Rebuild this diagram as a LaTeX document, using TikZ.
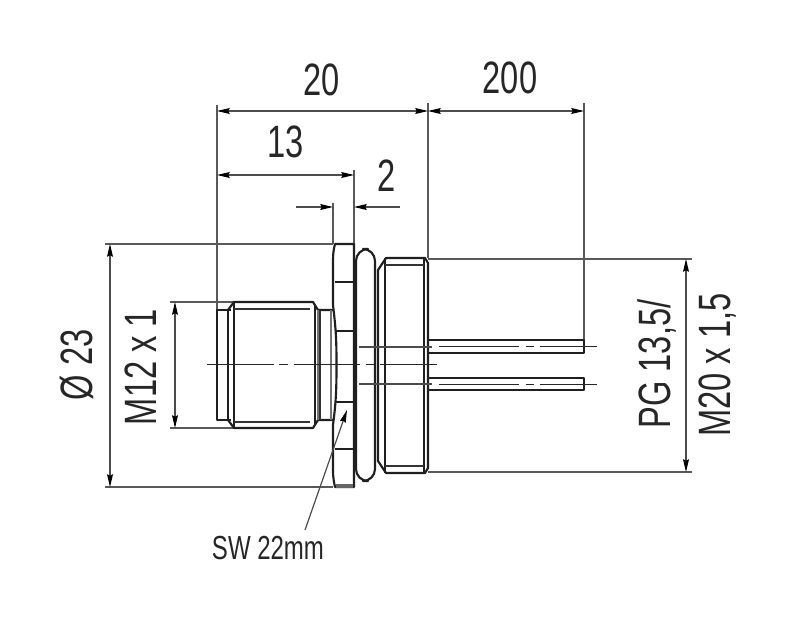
\documentclass[tikz,border=0pt]{standalone}
\usepackage{fontspec}
\usepackage{tikz}
\usetikzlibrary{arrows.meta}
\setmainfont[FakeStretch=0.72]{Liberation Sans}

\tikzset{
    >={Stealth[length=9.5pt,width=4.4pt,inset=1pt,color=black]},
    part/.style={line width=1.6pt, color=black!88, line join=round},
    thin part/.style={line width=1pt, color=black!80},
    gray part/.style={line width=2pt, color=black!55},
    dimline/.style={line width=0.9pt, color=black!70},
    extline/.style={line width=0.9pt, color=black!65},
    center line/.style={line width=0.9pt, color=black!85, dash pattern=on 50pt off 4pt on 7pt off 4pt},
    bigtext/.style={font=\fontsize{34}{34}\selectfont, text=black!85, inner sep=0pt},
    smalltext/.style={font=\fontsize{25}{25}\selectfont, text=black!85, inner sep=0pt}
}

\begin{document}
\begin{tikzpicture}[x=0.75pt, y=-0.75pt]
    \useasboundingbox (0,0) rectangle (800,625);

    % extension lines
    \draw[extline] (217,105) -- (217,310);
    \draw[extline] (354,170) -- (354,244);
    \draw[extline] (333,203) -- (333,244);
    \draw[extline, line width=1.2pt] (428,103) -- (428,258);
    \draw[extline] (584,103) -- (584,340);
    \draw[extline] (105,244) -- (333,244);
    \draw[extline] (105,487) -- (333,487);
    \draw[extline] (170,302) -- (234,302);
    \draw[extline] (170,428) -- (234,428);
    \draw[extline] (428,259) -- (692,259);
    \draw[extline] (428,472) -- (692,472);

    % dimension end points
    \coordinate (a20) at (217,111);
    \coordinate (b20) at (428,111);
    \coordinate (b200) at (584,111);
    \coordinate (a13) at (217,175);
    \coordinate (b13) at (354,175);
    \coordinate (a2) at (333,207);
    \coordinate (b2) at (354,207);
    \coordinate (c2) at (296,207);
    \coordinate (d2) at (400,207);
    \coordinate (aD) at (110,244);
    \coordinate (bD) at (110,487);
    \coordinate (aM) at (175,302);
    \coordinate (bM) at (175,428);
    \coordinate (aP) at (686,259);
    \coordinate (bP) at (686,472);

    \draw[dimline, <->] (a20) -- (b20);
    \draw[dimline, <->] (b20) -- (b200);
    \draw[dimline, <->] (a13) -- (b13);
    \draw[dimline, ->] (c2) -- (a2);
    \draw[dimline, ->] (d2) -- (b2);
    \draw[dimline, <->] (aD) -- (bD);
    \draw[dimline, <->] (aM) -- (bM);
    \draw[dimline, <->] (aP) -- (bP);

    % stub and thread
    \draw[part] (231,310) -- (217,310) -- (217,420) -- (231,420);
    \draw[part] (228,310) -- (234,302) -- (313,302) -- (318,310) -- (333,310);
    \draw[part] (228,420) -- (234,428) -- (313,428) -- (318,420) -- (333,420);
    \draw[part] (228,310) -- (228,420);
    \draw[part] (234,302) -- (234,428);
    \draw[thin part] (234,309) -- (310,309);
    \draw[thin part] (234,422) -- (310,422);
    \draw[part] (315,305) -- (315,425);
    \draw[gray part] (318,310) -- (318,420);
    \draw[thin part] (320,310) -- (320,420);
    \draw[gray part] (331,310) -- (331,420);

    % hex nut
    \draw[part] (335,244) -- (354,244) -- (354,487) -- (335,487)
        .. controls (334,482) and (333,478) .. (333,470) -- (333,425)
        .. controls (336,402) and (336.5,390) .. (336.5,365)
        .. controls (336.5,340) and (336,330) .. (333,305) -- (333,262)
        .. controls (333,252) and (334,248) .. (335,244) -- cycle;
    \draw[part] (335,282) -- (354,282);
    \draw[part] (335,331) -- (354,331);
    \draw[part] (335,402) -- (354,402);
    \draw[part] (335,449) -- (354,449);
    \draw[line width=2.5pt, color=black!60] (336,486) -- (353,486);

    % o-ring
    \draw[part, rounded corners=9pt] (356,249) rectangle (375,481);

    % body
    \draw[part] (378,270) -- (386,258) -- (425,258) -- (428,263) -- (428,468) -- (425,473) -- (386,473) -- (378,461) -- cycle;
    \draw[part] (385,258) -- (385,473);
    \draw[part] (424,258) -- (424,473);
    \draw[thin part] (385,265) -- (424,265);
    \draw[thin part] (385,466) -- (424,466);

    % pins
    \draw[part] (428,340) -- (584,340) -- (584,353) -- (428,353);
    \draw[part] (428,378) -- (584,378) -- (584,390) -- (428,390);

    % center lines
    \draw[center line] (207,364.5) -- (437,364.5);
    \draw[thin part, color=black!70] (359,347) -- (432,347);
    \draw[thin part, color=black!70] (359,384) -- (432,384);
    \draw[center line, dash pattern=on 60pt off 5pt on 6pt off 5pt] (439,346.5) -- (597,346.5);
    \draw[center line, dash pattern=on 60pt off 5pt on 6pt off 5pt] (439,384.5) -- (597,384.5);

    % leader
    \coordinate (leader) at (305,530);
    \coordinate (leadertip) at (347,410);
    \draw[dimline, ->] (leader) -- (leadertip);

    % labels
    \node[bigtext] (l20) at (322,80) {20};
    \node[bigtext] (l200) at (510,78) {200};
    \node[bigtext] (l13) at (286,142) {13};
    \node[bigtext] (l2) at (387,176) {2};
    \node[bigtext, rotate=90] (lD) at (77,365) {Ø 23};
    \node[bigtext, rotate=90] (lM) at (141,367) {M12 x 1};
    \node[bigtext, rotate=90] (lP) at (657,364) {PG 13,5/};
    \node[bigtext, rotate=90] (lQ) at (718,365) {M20 x 1,5};
    \node[smalltext] (lS) at (268,548) {SW 22mm};
\end{tikzpicture}
\end{document}
